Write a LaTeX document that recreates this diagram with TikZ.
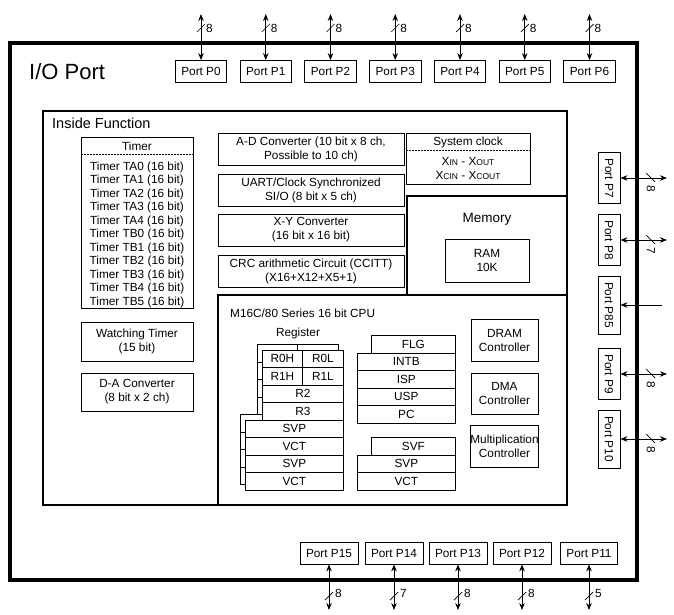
\documentclass[tikz,border=0pt]{standalone}
\usepackage{fontspec}
\setmainfont{Liberation Sans}
\usetikzlibrary{arrows.meta}

\newcommand{\lowcap}[1]{{\fontsize{8.5}{10}\selectfont #1}}

\tikzset{
  thinbox/.style={line width=0.8pt},
  wide/.style={line width=1.8pt},
  box/.style={draw, line width=0.8pt, align=center, inner sep=0pt},
  port/.style={box, minimum height=22pt, inner xsep=6pt},
  bus/.style={{Stealth[length=7pt,width=5.5pt]}-{Stealth[length=7pt,width=5.5pt]}, line width=0.8pt},
  slash/.style={line width=0.7pt},
  reg/.style={draw, fill=white, line width=0.7pt, inner sep=0pt, minimum height=17.5pt, anchor=north west},
  regback/.style={draw, fill=white, line width=0.7pt},
  dots/.style={line width=0.7pt, dash pattern=on 1.6pt off 1.4pt},
}

\begin{document}
\begin{tikzpicture}[x=1pt, y=-1pt, every node/.style={font=\fontsize{11.8}{14}\selectfont}]
	\useasboundingbox (0,0) rectangle (674,615);
	\draw[line width=3.2pt] (10,43) rectangle (637,580);
	\node[anchor=west, inner sep=0pt, font=\fontsize{22}{26}\selectfont] (io) at (29,72) {I/O Port};

	% ports on the top side
	\foreach \i in {0,...,6} {
		\pgfmathsetmacro{\px}{201+64.75*\i}
		\node[port] (p\i) at (\px,71.5) {Port P\i};
		\coordinate (t\i) at (\px,14);
		\draw[bus] (t\i) -- (p\i);
		\draw[slash] (\px-4,32) -- (\px+4,24);
		\node[anchor=west, inner sep=0pt] (w\i) at (\px+5,28) {8};
	}
	% ports on the bottom side
	\foreach \n/\px/\w in {15/329/8, 14/394/7, 13/458/8, 12/522/8, 11/589/5} {
		\node[port] (p\n) at (\px,553) {Port P\n};
		\coordinate (b\n) at (\px,610);
		\draw[bus] (p\n) -- (b\n);
		\draw[slash] (\px-4,600) -- (\px+4,592);
		\node[anchor=west, inner sep=0pt] (w\n) at (\px+6,593) {\w};
	}
	% ports on the right side
	\foreach \n/\py/\w in {7/178/8, 8/240/7, 9/374/8, 10/439/8} {
		\node[port, rotate=-90] (p\n) at (609,\py) {Port P\n};
		\coordinate (r\n) at (667,\py);
		\draw[bus] (p\n) -- (r\n);
		\draw[slash] (646,\py-5) -- (655,\py+4);
		\node[rotate=-90, inner sep=0pt] (w\n) at (651,\py+11) {\w};
	}
	\node[port, rotate=-90] (p85) at (609,305) {Port P85};
	\coordinate (r85) at (662,305);
	\draw[-{Stealth[length=7pt,width=5.5pt]}, line width=0.8pt] (r85) -- (p85);

	% inside function
	\draw[wide] (43,111) rectangle (567,505);
	\node[anchor=west, inner sep=0pt, font=\fontsize{14.5}{17}\selectfont] (inf) at (52,123) {Inside Function};

	\draw[thinbox] (81,137) rectangle (193,308);
	\node (tmr) at (137,146) {Timer};
	\draw[dots] (81,154) -- (193,154);
	\foreach \t [count=\k from 0] in {TA0,TA1,TA2,TA3,TA4,TB0,TB1,TB2,TB3,TB4,TB5}
		\node (tm\t) at (137,167+13.5*\k) {Timer \t\ (16 bit)};
	\node[box, minimum width=112pt, minimum height=39pt] (wdt) at (137,341.5) {Watching Timer\\(15 bit)};
	\node[box, minimum width=112pt, minimum height=38pt] (dac) at (137,392) {D-A Converter\\(8 bit x 2 ch)};

	\node[box, minimum width=186pt, minimum height=32pt] (adc) at (311,149) {A-D Converter (10 bit x 8 ch,\\Possible to 10 ch)};
	\node[box, minimum width=186pt, minimum height=32pt] (uart) at (311,190.5) {UART/Clock Synchronized\\SI/O (8 bit x 5 ch)};
	\node[box, minimum width=186pt, minimum height=32pt] (xyc) at (311,230) {X-Y Converter\\(16 bit x 16 bit)};
	\node[box, minimum width=186pt, minimum height=32pt] (crc) at (311,271.5) {CRC arithmetic Circuit (CCITT)\\(X16+X12+X5+1)};

	\draw[thinbox] (406,133) rectangle (530,184);
	\node (sck) at (468,142) {System clock};
	\draw[dots] (406,150) -- (530,150);
	\node (xin) at (468,161.5) {X\lowcap{IN} - X\lowcap{OUT}};
	\node (xcin) at (468,175) {X\lowcap{CIN} - X\lowcap{COUT}};

	\draw[wide] (407,196) rectangle (567,295);
	\node[font=\fontsize{13.5}{16}\selectfont] (mem) at (487,219) {Memory};
	\node[box, minimum width=84pt, minimum height=43pt] (ram) at (487,260.5) {RAM\\10K};

	% cpu
	\draw[wide] (218,295) rectangle (567,505);
	\node[anchor=west, inner sep=0pt] (cpu) at (230,313) {M16C/80 Series 16 bit CPU};
	\node (regt) at (298,333) {Register};
	\foreach \y in {349.5,367} {
		\draw[regback] (257,\y-5) rectangle ++(40,17.5);
		\draw[regback] (297,\y-5) rectangle ++(41,17.5);
	}
	\foreach \y in {384.5,402} \draw[regback] (257,\y-5) rectangle ++(81,17.5);
	\foreach \y in {419.5,437,454.5,472} \draw[regback] (240,\y-5) rectangle ++(98,17.5);
	\node[reg, minimum width=40pt] (r0h) at (262,349.5) {R0H};
	\node[reg, minimum width=41pt] (r0l) at (302,349.5) {R0L};
	\node[reg, minimum width=40pt] (r1h) at (262,367) {R1H};
	\node[reg, minimum width=41pt] (r1l) at (302,367) {R1L};
	\node[reg, minimum width=81pt] (r2) at (262,384.5) {R2};
	\node[reg, minimum width=81pt] (r3) at (262,402) {R3};
	\node[reg, minimum width=98pt] (lsvpa) at (245,419.5) {SVP};
	\node[reg, minimum width=98pt] (lvcta) at (245,437) {VCT};
	\node[reg, minimum width=98pt] (lsvpb) at (245,454.5) {SVP};
	\node[reg, minimum width=98pt] (lvctb) at (245,472) {VCT};

	\node[reg, minimum width=84pt] (flg) at (371,335) {FLG};
	\node[reg, minimum width=98pt] (intb) at (357,352.5) {INTB};
	\node[reg, minimum width=98pt] (isp) at (357,370) {ISP};
	\node[reg, minimum width=98pt] (usp) at (357,387.5) {USP};
	\node[reg, minimum width=98pt] (pc) at (357,405) {PC};
	\node[reg, minimum width=84pt] (svf) at (371,437) {SVF};
	\node[reg, minimum width=98pt] (rsvp) at (357,454.5) {SVP};
	\node[reg, minimum width=98pt] (rvct) at (357,472) {VCT};

	\node[box, minimum width=67pt, minimum height=42pt] (dram) at (504.5,340) {DRAM\\Controller};
	\node[box, minimum width=67pt, minimum height=41pt] (dma) at (504.5,393.5) {DMA\\Controller};
	\node[box, minimum width=67pt, minimum height=42pt] (mul) at (504.5,446) {Multiplication\\Controller};
\end{tikzpicture}
\end{document}
